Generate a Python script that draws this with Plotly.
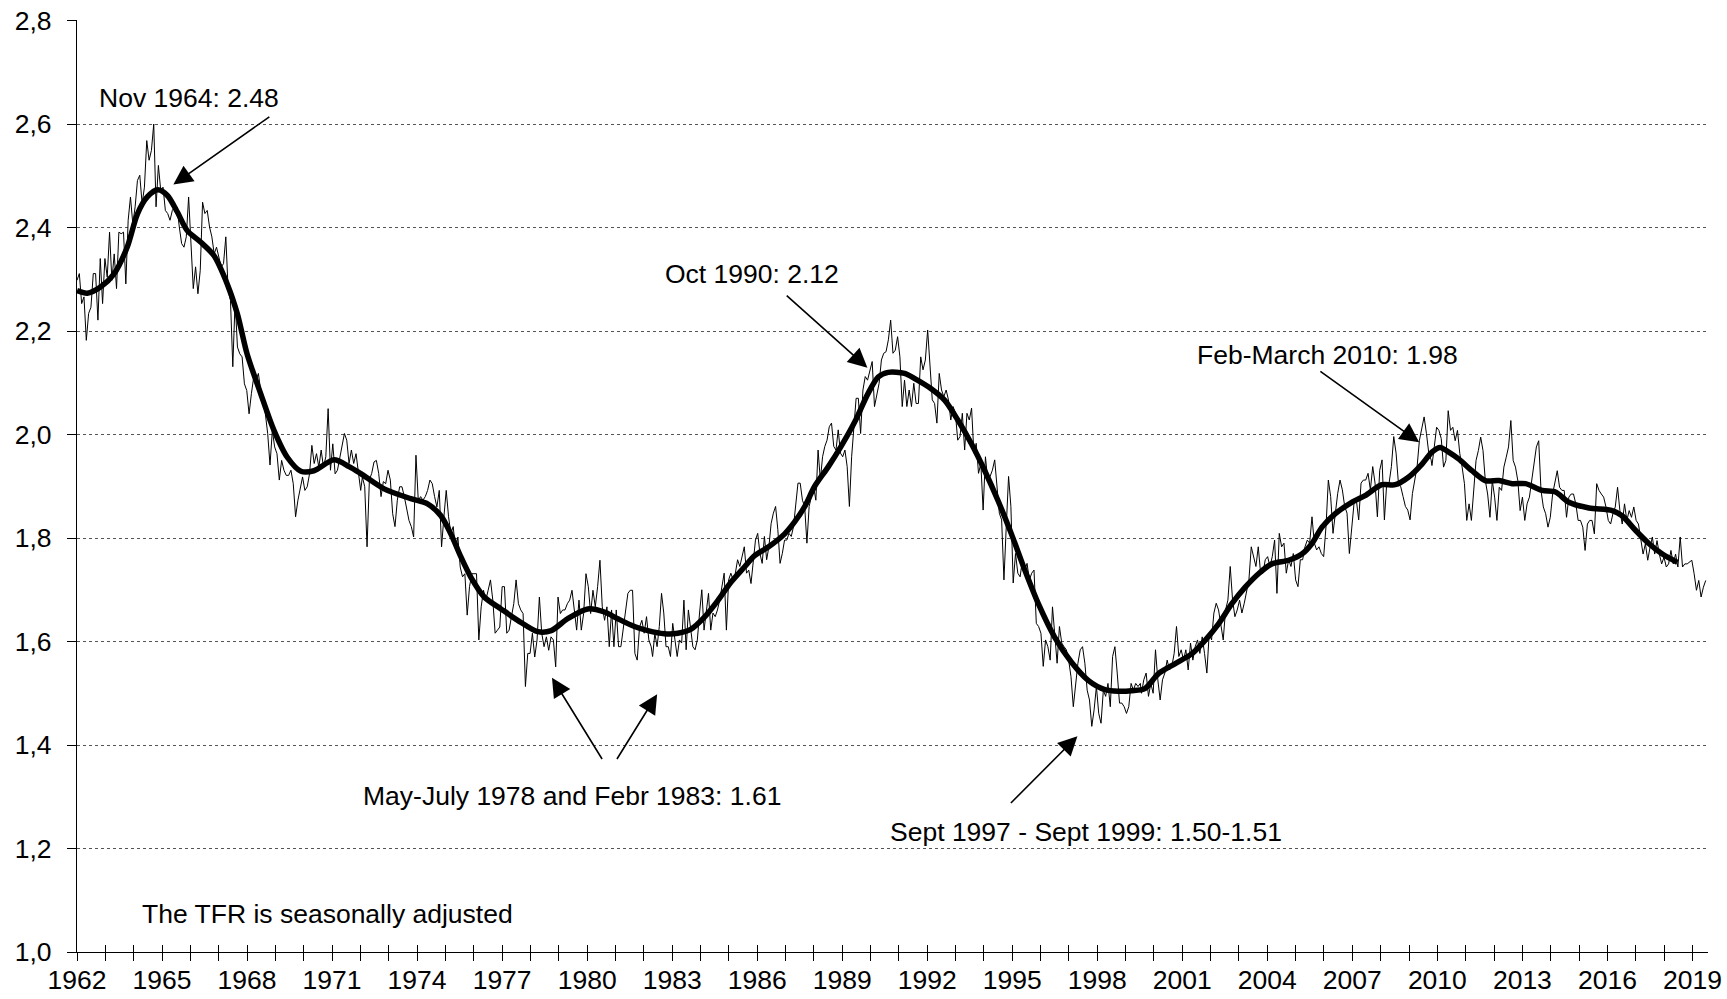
import numpy as np
import plotly.graph_objects as go

# ---------------- data ----------------
# Smoothed trend (decimal year, TFR)
trend_year = [1962.0, 1962.36, 1962.83, 1963.3, 1963.77, 1964.13, 1964.48, 1964.85, 1965.19, 1965.54,
              1965.89, 1966.36, 1966.83, 1967.3, 1967.66, 1968.0, 1968.48, 1968.95, 1969.42, 1969.9,
              1970.36, 1971.07, 1971.6, 1972.0, 1972.84, 1973.78, 1974.37, 1974.84, 1975.19, 1975.55,
              1975.9, 1976.37, 1976.96, 1977.55, 1978.26, 1978.73, 1979.31, 1980.02, 1980.61, 1981.08,
              1981.67, 1982.14, 1982.73, 1983.2, 1983.67, 1984.14, 1984.61, 1985.08, 1985.55, 1985.91,
              1986.38, 1986.97, 1987.32, 1987.67, 1988.03, 1988.5, 1988.97, 1989.44, 1989.91, 1990.27,
              1990.62, 1991.2, 1991.56, 1992.15, 1992.62, 1993.09, 1993.56, 1994.03, 1994.5, 1994.97,
              1995.45, 1995.92, 1996.5, 1997.09, 1997.68, 1998.27, 1998.74, 1999.21, 1999.68, 2000.16,
              2000.74, 2001.33, 2001.8, 2002.28, 2002.75, 2003.22, 2003.69, 2004.16, 2004.75, 2005.22,
              2005.57, 2005.93, 2006.4, 2006.98, 2007.45, 2008.04, 2008.51, 2008.99, 2009.46, 2009.81,
              2010.1, 2010.4, 2010.75, 2011.22, 2011.69, 2012.17, 2012.64, 2013.11, 2013.7, 2014.17,
              2014.64, 2015.35, 2016.17, 2016.52, 2016.99, 2017.47, 2017.94, 2018.47]
trend_tfr = [2.278, 2.273, 2.285, 2.31, 2.362, 2.426, 2.459, 2.473, 2.462, 2.43,
             2.394, 2.372, 2.346, 2.291, 2.233, 2.156, 2.079, 2.008, 1.956, 1.929,
             1.930, 1.951, 1.938, 1.925, 1.895, 1.876, 1.866, 1.843, 1.808, 1.763,
             1.724, 1.686, 1.663, 1.641, 1.619, 1.621, 1.644, 1.663, 1.657, 1.644,
             1.629, 1.621, 1.615, 1.616, 1.624, 1.647, 1.679, 1.715, 1.744, 1.766,
             1.782, 1.808, 1.831, 1.860, 1.900, 1.937, 1.978, 2.024, 2.079, 2.111,
             2.120, 2.118, 2.108, 2.088, 2.066, 2.027, 1.982, 1.930, 1.872, 1.808,
             1.737, 1.673, 1.608, 1.560, 1.525, 1.507, 1.504, 1.505, 1.509, 1.538,
             1.557, 1.576, 1.602, 1.634, 1.673, 1.705, 1.731, 1.750, 1.757, 1.769,
             1.789, 1.821, 1.847, 1.869, 1.882, 1.903, 1.903, 1.918, 1.943, 1.966,
             1.975, 1.966, 1.953, 1.930, 1.911, 1.911, 1.905, 1.905, 1.892, 1.889,
             1.869, 1.858, 1.853, 1.843, 1.815, 1.789, 1.769, 1.753]

# Monthly seasonally adjusted TFR, read in six stretches (start year, end year, values)
seg_a_span = (1962.0, 1972.01)
seg_a_tfr = [2.298, 2.311, 2.253, 2.266, 2.182, 2.234, 2.246, 2.311, 2.311, 2.221, 2.340, 2.253,
             2.340, 2.304, 2.391, 2.298, 2.349, 2.282, 2.391, 2.388, 2.391, 2.291, 2.414, 2.459,
             2.407, 2.440, 2.491, 2.501, 2.446, 2.478, 2.568, 2.530, 2.549, 2.600, 2.440, 2.520,
             2.472, 2.478, 2.433, 2.427, 2.414, 2.433, 2.440, 2.440, 2.401, 2.369, 2.362, 2.382,
             2.459, 2.375, 2.282, 2.324, 2.272, 2.317, 2.449, 2.427, 2.433, 2.401, 2.382, 2.349,
             2.362, 2.343, 2.324, 2.330, 2.382, 2.279, 2.259, 2.131, 2.259, 2.169, 2.156, 2.150,
             2.098, 2.085, 2.040, 2.079, 2.111, 2.105, 2.118, 2.085, 2.066, 2.040, 2.002, 1.941,
             2.008, 1.976, 1.963, 1.912, 1.950, 1.931, 1.921, 1.921, 1.931, 1.905, 1.841, 1.873,
             1.899, 1.918, 1.892, 1.899, 1.924, 1.979, 1.944, 1.963, 1.937, 1.970, 1.937, 1.957,
             2.050, 1.931, 1.982, 1.924, 1.931, 1.957, 1.976, 2.002, 1.989, 1.944, 1.970, 1.944,
             1.963, 1.924, 1.892]

seg_b_span = (1972.07, 1982.26)
seg_b_tfr = [1.918, 1.899, 1.783, 1.912, 1.925, 1.947, 1.950, 1.925, 1.880, 1.909, 1.905,
             1.931, 1.912, 1.847, 1.822, 1.873, 1.899, 1.899, 1.880, 1.860, 1.834, 1.822, 1.802,
             1.960, 1.873, 1.880, 1.873, 1.880, 1.892, 1.912, 1.905, 1.880, 1.860, 1.892, 1.783,
             1.841, 1.892, 1.841, 1.809, 1.822, 1.777, 1.802, 1.744, 1.725, 1.731, 1.651, 1.706,
             1.731, 1.731, 1.731, 1.603, 1.667, 1.699, 1.680, 1.699, 1.719, 1.680, 1.616, 1.622,
             1.628, 1.706, 1.706, 1.616, 1.622, 1.648, 1.673, 1.719, 1.673, 1.661, 1.654, 1.513,
             1.577, 1.577, 1.616, 1.570, 1.603, 1.686, 1.616, 1.590, 1.609, 1.583, 1.609, 1.603,
             1.551, 1.686, 1.654, 1.661, 1.661, 1.673, 1.680, 1.699, 1.654, 1.622, 1.680, 1.622,
             1.654, 1.731, 1.706, 1.654, 1.699, 1.667, 1.706, 1.757, 1.667, 1.641, 1.667, 1.590,
             1.661, 1.590, 1.661, 1.590, 1.590, 1.628, 1.667, 1.693, 1.699, 1.699, 1.577, 1.564,
             1.628, 1.641, 1.616, 1.648, 1.603, 1.590]

seg_c_span = (1982.31, 1989.57)
seg_c_tfr = [1.571, 1.616, 1.590, 1.629, 1.693, 1.655, 1.590, 1.590, 1.571, 1.635, 1.603, 1.571,
             1.603, 1.597, 1.680, 1.584, 1.661, 1.622, 1.590, 1.584, 1.603, 1.655, 1.700, 1.622,
             1.661, 1.693, 1.622, 1.655, 1.648, 1.661, 1.680, 1.706, 1.732, 1.622, 1.719, 1.732,
             1.719, 1.732, 1.758, 1.745, 1.764, 1.783, 1.732, 1.738, 1.712, 1.751, 1.796, 1.809,
             1.770, 1.751, 1.803, 1.758, 1.783, 1.828, 1.848, 1.861, 1.816, 1.751, 1.770, 1.796,
             1.796, 1.809, 1.803, 1.822, 1.861, 1.906, 1.906, 1.873, 1.861, 1.790, 1.861, 1.880,
             1.899, 1.873, 1.970, 1.912, 1.957, 1.977, 1.989, 2.015, 2.022, 1.977, 1.970, 2.009,
             1.964, 1.957, 1.970, 1.938, 1.861, 1.957, 2.022, 2.070, 2.070]

seg_d_span = (1989.65, 1999.52)
seg_d_tfr = [2.002, 2.086, 2.112, 2.105, 2.125, 2.141, 2.054, 2.080, 2.099, 2.144, 2.157, 2.160,
             2.183, 2.221, 2.157, 2.163, 2.189, 2.150, 2.054, 2.105, 2.054, 2.086, 2.054, 2.099,
             2.060, 2.060, 2.150, 2.125, 2.144, 2.202, 2.125, 2.067, 2.060, 2.022, 2.118, 2.086,
             2.073, 2.086, 2.067, 2.028, 2.054, 2.041, 1.989, 1.996, 2.041, 1.970, 2.041, 2.028,
             2.051, 1.964, 1.983, 1.925, 1.944, 1.854, 1.957, 1.912, 1.919, 1.931, 1.951, 1.899,
             1.848, 1.835, 1.719, 1.822, 1.919, 1.861, 1.713, 1.770, 1.732, 1.725, 1.758, 1.738,
             1.751, 1.719, 1.732, 1.738, 1.635, 1.629, 1.616, 1.552, 1.603, 1.590, 1.564, 1.667,
             1.603, 1.558, 1.629, 1.597, 1.590, 1.584, 1.564, 1.532, 1.474, 1.519, 1.558, 1.584,
             1.590, 1.558, 1.506, 1.487, 1.436, 1.468, 1.513, 1.461, 1.442, 1.506, 1.494, 1.519,
             1.474, 1.571, 1.590, 1.539, 1.481, 1.481, 1.474, 1.461, 1.474, 1.519, 1.506, 1.519,
             1.513, 1.519]

seg_e_span = (1999.56, 2009.78)
seg_e_tfr = [1.500, 1.526, 1.539, 1.494, 1.519, 1.500, 1.584, 1.526, 1.487, 1.526, 1.539, 1.564,
             1.545, 1.552, 1.577, 1.629, 1.571, 1.584, 1.564, 1.584, 1.545, 1.597, 1.564, 1.590,
             1.603, 1.577, 1.609, 1.577, 1.539, 1.616, 1.603, 1.655, 1.674, 1.661, 1.635, 1.603,
             1.661, 1.680, 1.745, 1.680, 1.648, 1.661, 1.680, 1.655, 1.674, 1.700, 1.719, 1.783,
             1.764, 1.745, 1.783, 1.732, 1.732, 1.758, 1.764, 1.745, 1.764, 1.796, 1.693, 1.809,
             1.783, 1.790, 1.732, 1.758, 1.745, 1.770, 1.719, 1.706, 1.758, 1.758, 1.783, 1.796,
             1.790, 1.841, 1.790, 1.777, 1.783, 1.770, 1.764, 1.822, 1.912, 1.880, 1.809, 1.848,
             1.886, 1.912, 1.893, 1.861, 1.848, 1.770, 1.822, 1.867, 1.873, 1.835, 1.906, 1.912,
             1.912, 1.925, 1.893, 1.938, 1.906, 1.841, 1.931, 1.951, 1.835, 1.906, 1.906, 1.938,
             1.996, 1.964, 1.906, 1.899, 1.880, 1.861, 1.854, 1.835, 1.886, 1.912, 1.938, 1.989,
             2.015, 2.034, 2.002, 1.964, 1.951]

seg_f_span = (2009.81, 2019.47)
seg_f_tfr = [1.940, 1.976, 2.014, 2.008, 1.992, 1.937, 1.950, 2.046, 2.008, 2.014, 1.988, 2.008,
             1.963, 1.937, 1.905, 1.834, 1.866, 1.834, 1.892, 1.950, 1.969, 1.995, 1.969, 1.911,
             1.885, 1.840, 1.911, 1.879, 1.834, 1.898, 1.892, 1.937, 1.956, 1.976, 2.027, 1.950,
             1.937, 1.911, 1.853, 1.879, 1.834, 1.866, 1.879, 1.911, 1.943, 1.976, 1.988, 1.892,
             1.860, 1.847, 1.821, 1.840, 1.885, 1.905, 1.930, 1.898, 1.892, 1.892, 1.840, 1.879,
             1.885, 1.885, 1.866, 1.834, 1.834, 1.821, 1.776, 1.827, 1.834, 1.834, 1.808, 1.905,
             1.892, 1.885, 1.879, 1.860, 1.834, 1.827, 1.847, 1.860, 1.898, 1.853, 1.827, 1.866,
             1.834, 1.853, 1.840, 1.860, 1.834, 1.827, 1.795, 1.769, 1.789, 1.757, 1.782, 1.802,
             1.769, 1.795, 1.769, 1.750, 1.763, 1.744, 1.750, 1.776, 1.750, 1.769, 1.744, 1.802,
             1.744, 1.750, 1.750, 1.753, 1.757, 1.731, 1.699, 1.718, 1.686, 1.705, 1.718]

segments = [(seg_a_span, seg_a_tfr), (seg_b_span, seg_b_tfr), (seg_c_span, seg_c_tfr),
            (seg_d_span, seg_d_tfr), (seg_e_span, seg_e_tfr), (seg_f_span, seg_f_tfr)]

x_tick_years = list(range(1962, 2020))
x_tick_labels = [str(y) if (y - 1962) % 3 == 0 else "" for y in x_tick_years]
y_tick_values = [1.0, 1.2, 1.4, 1.6, 1.8, 2.0, 2.2, 2.4, 2.6, 2.8]
y_tick_labels = ["1,0", "1,2", "1,4", "1,6", "1,8", "2,0", "2,2", "2,4", "2,6", "2,8"]

# ---------------- build ----------------
thin_x, thin_y = [], []
for (t0, t1), vals in segments:
    thin_x.extend(np.linspace(t0, t1, len(vals)).tolist())
    thin_y.extend(vals)

FONT = "Liberation Sans, Arial, sans-serif"

fig = go.Figure()
fig.add_trace(go.Scatter(x=thin_x, y=thin_y, mode="lines",
                         line=dict(color="black", width=1), hoverinfo="skip", showlegend=False))
fig.add_trace(go.Scatter(x=trend_year, y=trend_tfr, mode="lines",
                         line=dict(color="black", width=5.5, shape="spline", smoothing=0.8),
                         hoverinfo="skip", showlegend=False))
# helper trace for the inside tick marks on the overlaid x-axis
fig.add_trace(go.Scatter(x=[x_tick_years[0]], y=[None], xaxis="x2", yaxis="y",
                         mode="lines", showlegend=False, hoverinfo="skip"))

ann_font = dict(family=FONT, size=26.5, color="black")
annotations = []
texts = [
    ("Nov 1964: 2.48", 1965.96, 2.651),
    ("Oct 1990: 2.12", 1985.81, 2.311),
    ("Feb-March 2010: 1.98", 2006.12, 2.153),
    ("May-July 1978 and Febr 1983: 1.61", 1979.48, 1.302),
    ("Sept 1997 - Sept 1999: 1.50-1.51", 1997.62, 1.232),
]
for txt, tx, ty in texts:
    annotations.append(dict(text=txt, x=tx, y=ty, xref="x", yref="y", showarrow=False,
                            font=ann_font, xanchor="center", yanchor="middle"))
annotations.append(dict(text="The TFR is seasonally adjusted", x=1964.21, y=1.0725, xref="x", yref="y",
                        showarrow=False, font=ann_font, xanchor="left", yanchor="middle"))

arrows = [
    ((1965.40, 2.483), (1968.84, 2.616)),
    ((1989.89, 2.129), (1986.99, 2.271)),
    ((2009.36, 1.985), (2005.82, 2.124)),
    ((1978.76, 1.530), (1980.56, 1.370)),
    ((1982.47, 1.498), (1981.02, 1.370)),
    ((1997.30, 1.417), (1994.90, 1.285)),
]
for (hx, hy), (tx, ty) in arrows:
    annotations.append(dict(text="", x=hx, y=hy, ax=tx, ay=ty, xref="x", yref="y",
                            axref="x", ayref="y", showarrow=True, arrowhead=2,
                            arrowsize=2.4, arrowwidth=1.6, arrowcolor="black", standoff=0,
                            startstandoff=0))

fig.update_layout(
    template="none",
    width=1727, height=999,
    margin=dict(l=77, r=19, t=20, b=47, autoexpand=False),
    paper_bgcolor="white", plot_bgcolor="white",
    font=dict(family=FONT, size=26.5, color="black"),
    showlegend=False,
    annotations=annotations,
    xaxis=dict(range=[1962, 2019.55], tickmode="array", tickvals=x_tick_years,
               ticktext=x_tick_labels, ticks="outside", ticklen=8, tickwidth=1,
               tickcolor="black", showline=True, linecolor="black", linewidth=1.3,
               showgrid=False, zeroline=False, tickfont=dict(family=FONT, size=26.5),
               ticklabelstandoff=-4, ticklabeloverflow="allow", automargin=False),
    xaxis2=dict(overlaying="x", matches="x", anchor="y", tickmode="array",
                tickvals=x_tick_years, ticks="inside", ticklen=7, tickwidth=1,
                tickcolor="black", showticklabels=False, showline=False,
                showgrid=False, zeroline=False, side="bottom", automargin=False),
    yaxis=dict(range=[1.0, 2.801], tickmode="array", tickvals=y_tick_values,
               ticktext=y_tick_labels, ticks="outside", ticklen=9, tickwidth=1,
               tickcolor="black", showline=True, linecolor="black", linewidth=1.3,
               showgrid=True, gridcolor="#555555", griddash="dot", gridwidth=1,
               zeroline=False, tickfont=dict(family=FONT, size=26.5),
               ticklabelstandoff=10, ticklabeloverflow="allow", automargin=False),
)

# remove the browser's default 8px body margin so the 1727x999 figure fills the window
fig.write_html("out.html", config={"displayModeBar": False},
               post_script="document.body.style.margin='0';document.body.style.overflow='hidden';")
